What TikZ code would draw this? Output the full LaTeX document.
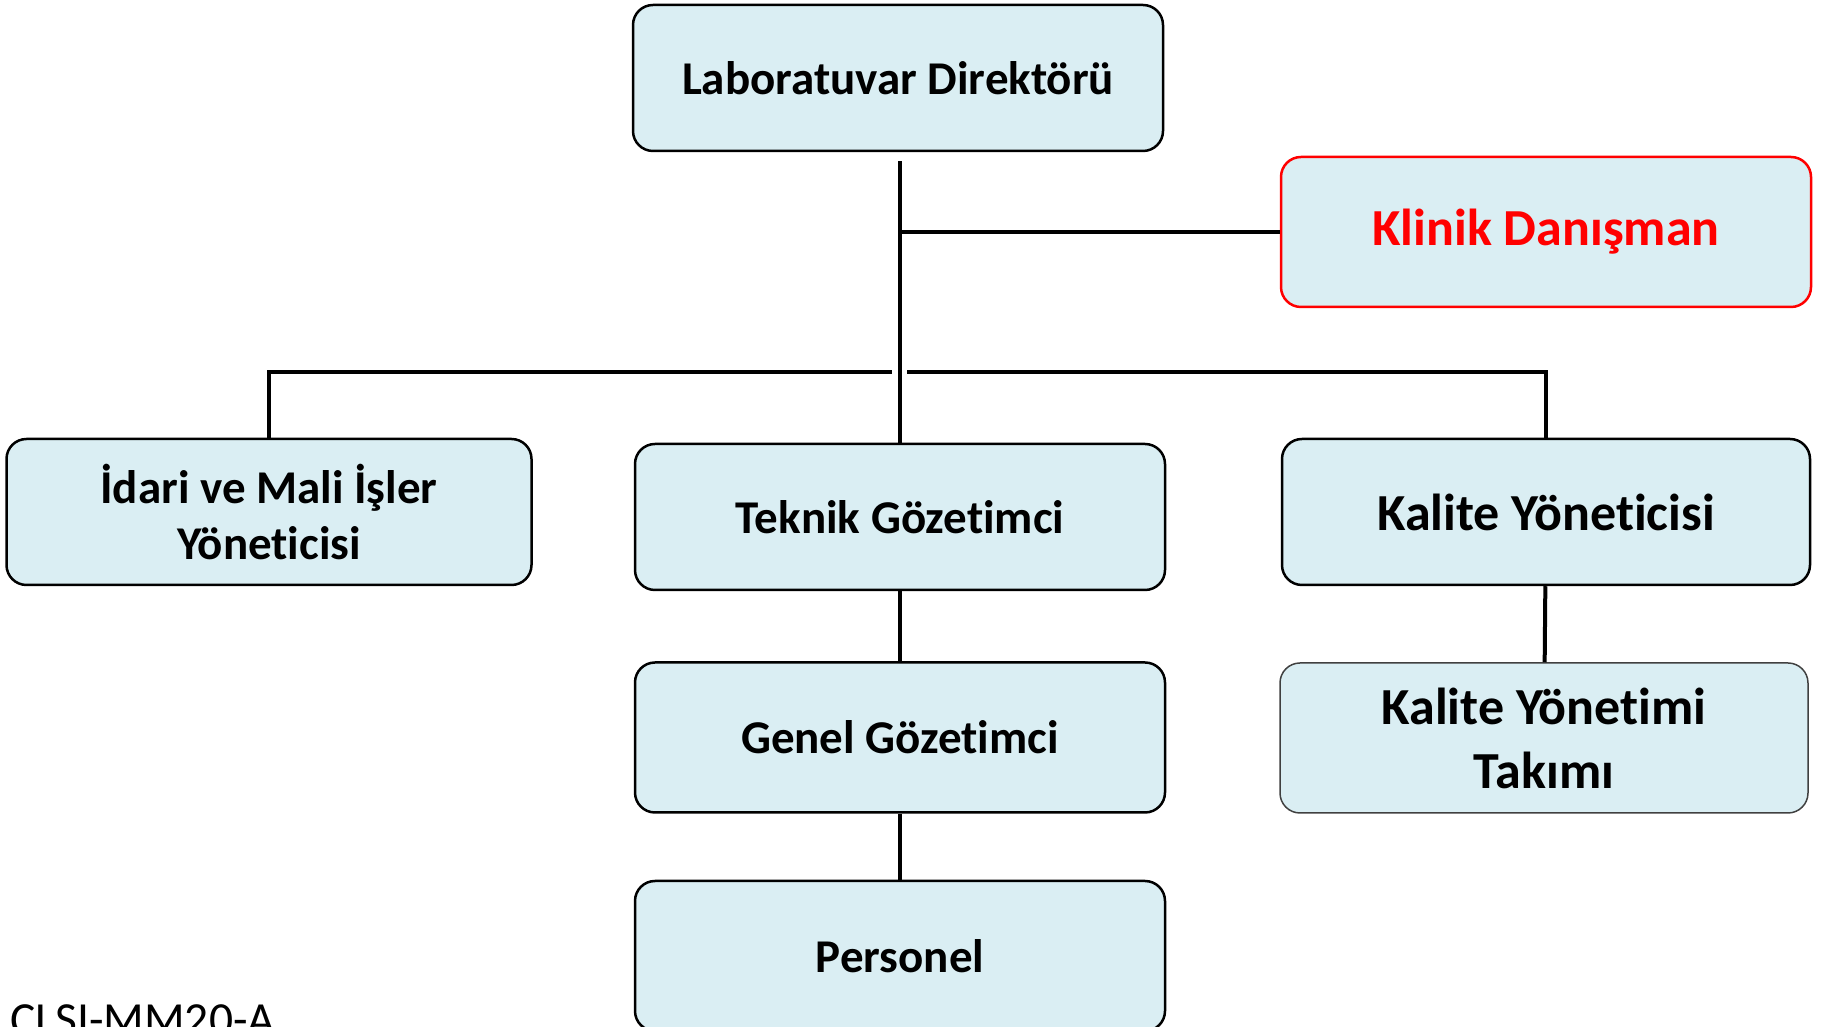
\documentclass[tikz,border=0pt]{standalone}
\usepackage{fontspec}
\setmainfont[RawFeature={-liga;-clig;-calt;-dlig}]{Carlito}
\usepackage{tikz}
\usetikzlibrary{positioning, calc}
\definecolor{boxbg}{RGB}{218,238,243}
\definecolor{boxborder}{RGB}{0,0,0}
\definecolor{advred}{RGB}{255,0,0}
\tikzset{
  orgbox/.style={rectangle, rounded corners=20pt, draw=boxborder,
                 fill=#1, line width=2.5pt, minimum width=530pt, minimum height=146pt,
                 font=\fontsize{47}{56}\selectfont\bfseries, align=center, inner sep=4pt},
  advbox/.style={orgbox=boxbg, draw=advred, text=advred, minimum height=150pt,
                 font=\fontsize{52}{60}\selectfont\bfseries},
  qualbox/.style={orgbox=boxbg, minimum width=528pt,
                  font=\fontsize{52}{64}\selectfont\bfseries},
  linkstyle/.style={line width=4pt, draw=black, line join=miter},
}
\begin{document}
\begin{tikzpicture}[x=1pt, y=1pt]
  \useasboundingbox (0,0) rectangle (1829,1027);

  \node[orgbox=boxbg] (dir) at (898,949) {Laboratuvar Direktörü};
  \node[advbox] (klinik) at (1546,795) {Klinik Danışman};

  \node[orgbox=boxbg, minimum width=525pt] (idari) at (269,515)
    {İdari ve Mali İşler\\Yöneticisi};
  \node[orgbox=boxbg] (teknik) at (900,510) {Teknik Gözetimci};
  \node[qualbox] (kalite) at (1546,515) {Kalite Yöneticisi};

  \node[orgbox=boxbg, below=70pt of teknik, minimum height=150pt] (genel) {Genel Gözetimci};
  \node[orgbox=boxbg, below=66pt of genel, minimum height=150pt] (pers) {Personel};
  \node[qualbox, below=76pt of kalite, xshift=-2pt, minimum height=150pt,
        draw=black!75, line width=1.5pt] (takim) {Kalite Yönetimi\\Takımı};

  \node[anchor=base west, inner sep=0pt, font=\fontsize{47.5}{56}\selectfont]
    (ref) at (10,-9) {CLSI-MM20-A};

  \coordinate[above=71pt of teknik.north] (bus);

  \draw[linkstyle, shorten <=9pt] (teknik.north |- dir.south) -- (teknik.north);
  \draw[linkstyle] (teknik.north |- klinik.west) -- (klinik.west);
  \draw[linkstyle] (idari.north) |- ([xshift=-8pt]bus);
  \draw[linkstyle] (kalite.north) |- ([xshift=7pt]bus);
  \draw[linkstyle] (teknik) -- (genel);
  \draw[linkstyle] (genel) -- (pers);
  \draw[linkstyle] (kalite) -- (takim);
\end{tikzpicture}
\end{document}
